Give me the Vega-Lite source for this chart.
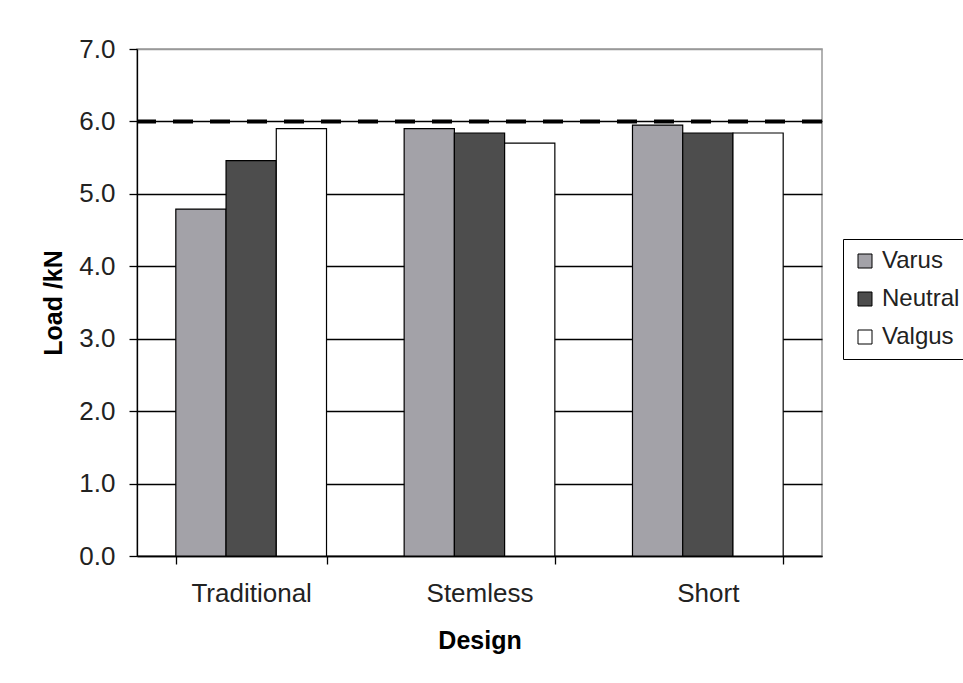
{
  "$schema": "https://vega.github.io/schema/vega-lite/v6.json",
  "width": 685,
  "height": 507,
  "autosize": "none",
  "padding": {"left": 137, "top": 49, "right": 141, "bottom": 127},
  "background": "white",
  "config": {
    "view": {"stroke": "#999999", "strokeWidth": 1.5},
    "font": "Liberation Sans"
  },
  "data": {
    "values": [
      {"Design": "Traditional", "Position": "Varus", "Load": 4.79},
      {"Design": "Traditional", "Position": "Neutral", "Load": 5.46},
      {"Design": "Traditional", "Position": "Valgus", "Load": 5.9},
      {"Design": "Stemless", "Position": "Varus", "Load": 5.9},
      {"Design": "Stemless", "Position": "Neutral", "Load": 5.84},
      {"Design": "Stemless", "Position": "Valgus", "Load": 5.7},
      {"Design": "Short", "Position": "Varus", "Load": 5.95},
      {"Design": "Short", "Position": "Neutral", "Load": 5.84},
      {"Design": "Short", "Position": "Valgus", "Load": 5.84}
    ]
  },
  "layer": [
    {
      "mark": {"type": "bar", "stroke": "black", "strokeWidth": 1.2},
      "encoding": {
        "x": {
          "field": "Design",
          "type": "nominal",
          "sort": ["Traditional", "Stemless", "Short"],
          "scale": {"paddingInner": 0.34, "paddingOuter": 0.17},
          "axis": {
            "labelAngle": 0,
            "tickBand": "extent",
            "tickSize": 8,
            "tickColor": "black",
            "domainColor": "black",
            "domainWidth": 1.3,
            "tickWidth": 1.3,
            "labelFontSize": 26,
            "labelColor": "#222222",
            "labelPadding": 16,
            "title": "Design",
            "titleFontSize": 25,
            "titleFontWeight": "bold",
            "titleColor": "black",
            "titlePadding": 22
          }
        },
        "xOffset": {
          "field": "Position",
          "sort": ["Varus", "Neutral", "Valgus"],
          "scale": {"paddingInner": 0, "paddingOuter": 0}
        },
        "y": {
          "field": "Load",
          "type": "quantitative",
          "scale": {"domain": [0, 7], "nice": false},
          "axis": {
            "values": [0, 1, 2, 3, 4, 5, 6, 7],
            "format": ".1f",
            "tickSize": 8,
            "tickColor": "black",
            "tickWidth": 1.3,
            "domainColor": "black",
            "domainWidth": 1.3,
            "labelFontSize": 26,
            "labelColor": "#222222",
            "labelPadding": 14,
            "title": "Load /kN",
            "titleFontSize": 25,
            "titleFontWeight": "bold",
            "titleColor": "black",
            "titlePadding": 12,
            "grid": true,
            "gridWidth": 1.3,
            "gridColor": {"condition": {"test": "datum.value === 7", "value": "#999999"}, "value": "black"}
          }
        },
        "fill": {
          "field": "Position",
          "type": "nominal",
          "scale": {"domain": ["Varus", "Neutral", "Valgus"], "range": ["#A3A2A8", "#4D4D4D", "#FFFFFF"]},
          "legend": {
            "orient": "none",
            "legendX": 706,
            "legendY": 190,
            "title": null,
            "symbolType": "square",
            "symbolSize": 196,
            "symbolStrokeColor": "black",
            "symbolStrokeWidth": 1,
            "labelFontSize": 24,
            "labelColor": "#222222",
            "labelOffset": 5,
            "strokeColor": "black",
            "fillColor": "white",
            "padding": 10,
            "rowPadding": 14
          }
        }
      }
    },
    {
      "data": {"values": [{"Limit": 6}]},
      "mark": {"type": "rule", "stroke": "black", "strokeWidth": 4, "strokeDash": [20, 17]},
      "encoding": {"y": {"field": "Limit", "type": "quantitative"}}
    }
  ]
}
